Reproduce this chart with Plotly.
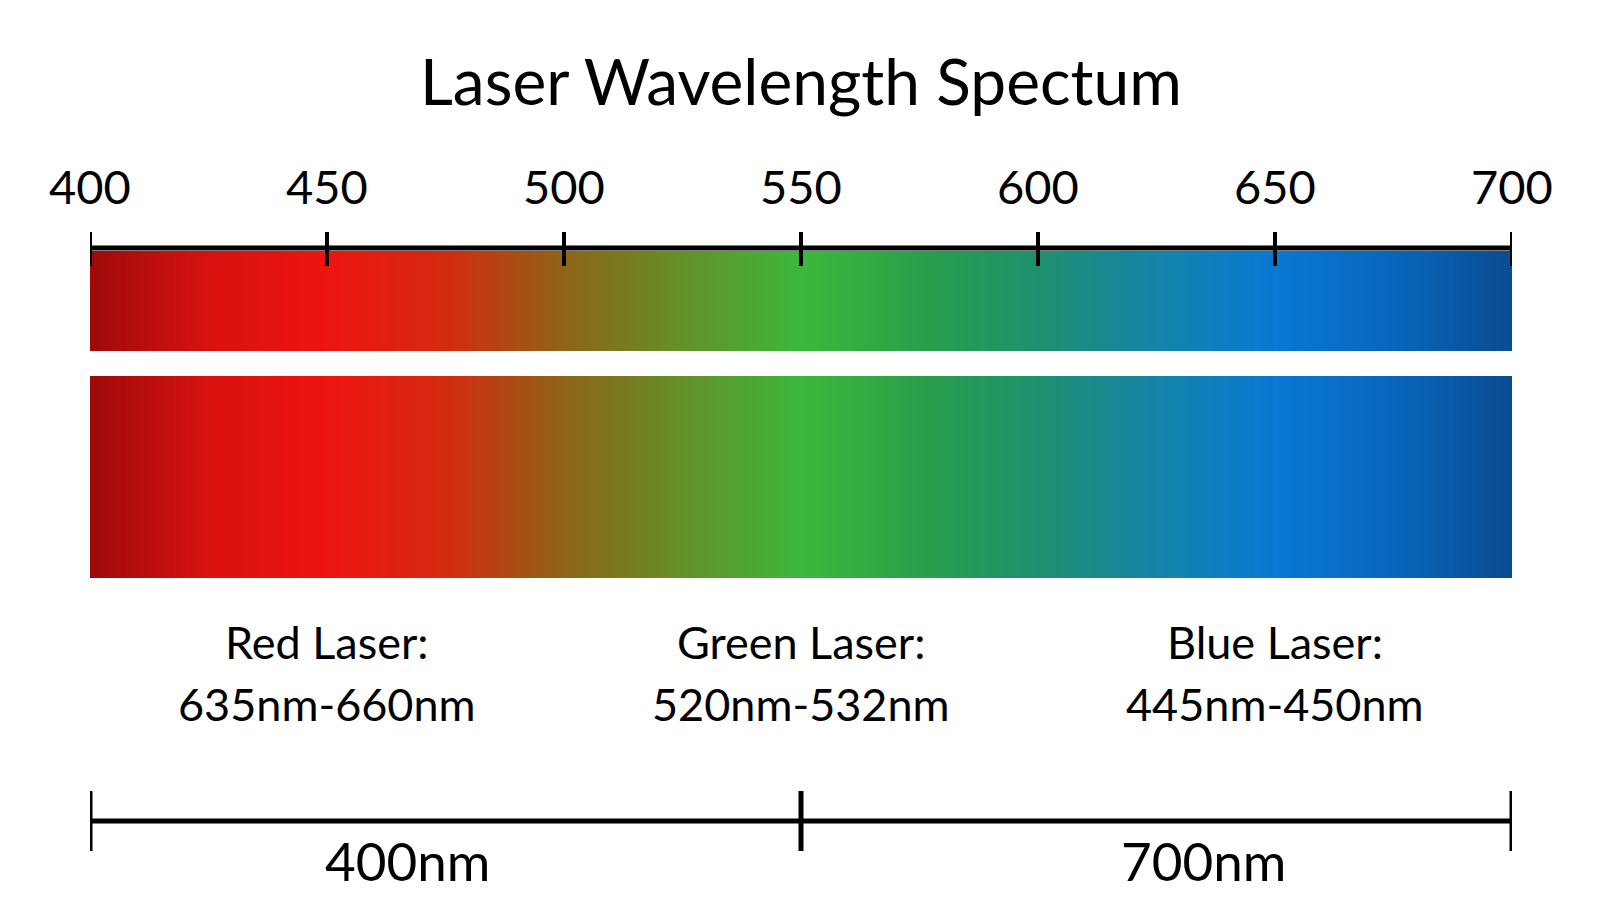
import numpy as np
import plotly.graph_objects as go

title = "Laser Wavelength Spectum"
tick_vals = [400, 450, 500, 550, 600, 650, 700]
tick_labels = ["400", "450", "500", "550", "600", "650", "700"]
color_stops = [400, 425, 450, 475, 500, 525, 550, 575, 600, 625, 650, 675, 700]
color_hex = ["#9e0a0a", "#d81210", "#ee1410", "#d42a10", "#8e6418", "#64902a", "#3cb83c",
             "#2aa04a", "#1e906e", "#1484a8", "#0a78d4", "#0866bc", "#0a4c92"]
laser_names = ["Red Laser:", "Green Laser:", "Blue Laser:"]
laser_ranges = ["635nm-660nm", "520nm-532nm", "445nm-450nm"]
laser_x = [450, 550, 650]
bottom_ticks = [400, 550, 700]
bottom_labels = ["400nm", "700nm"]
bottom_label_x = [467, 635]

FONT = "Lato, Open Sans, sans-serif"
wl = np.arange(400, 701, 1)
cs = [[(v - 400) / 300, c] for v, c in zip(color_stops, color_hex)]

fig = go.Figure()
for y0, h in [(243, 100), (368, 202)]:
    fig.add_trace(go.Heatmap(z=[wl], x=wl, y0=y0 + h / 2, dy=h, colorscale=cs,
                             zmin=400, zmax=700, showscale=False, hoverinfo="skip"))

shapes = [dict(type="line", x0=400, x1=700, y0=240, y1=240, line=dict(color="black", width=5))]
for t in tick_vals:
    shapes.append(dict(type="line", x0=t, x1=t, y0=224, y1=258, line=dict(color="black", width=4)))
shapes.append(dict(type="line", x0=400, x1=700, y0=813, y1=813, line=dict(color="black", width=5)))
for t in bottom_ticks:
    shapes.append(dict(type="line", x0=t, x1=t, y0=783, y1=843, line=dict(color="black", width=5)))

ann = []
for t, l in zip(tick_vals, tick_labels):
    ann.append(dict(x=t, y=178, text=l, showarrow=False, font=dict(size=47, color="black", family=FONT)))
for x, n, r in zip(laser_x, laser_names, laser_ranges):
    ann.append(dict(x=x, y=634, text=n, showarrow=False, font=dict(size=45, color="black", family=FONT)))
    ann.append(dict(x=x, y=696, text=r, showarrow=False, font=dict(size=45, color="black", family=FONT)))
for x, l in zip(bottom_label_x, bottom_labels):
    ann.append(dict(x=x, y=852, text=l, showarrow=False, font=dict(size=53, color="black", family=FONT)))
ann.append(dict(x=550, y=72, text=title, showarrow=False, font=dict(size=64, color="black", family=FONT)))

fig.update_layout(
    width=1600, height=900, margin=dict(l=82, r=96, t=0, b=0),
    paper_bgcolor="white", plot_bgcolor="white",
    xaxis=dict(range=[400, 700], visible=False),
    yaxis=dict(range=[900, 0], visible=False),
    shapes=shapes, annotations=ann,
)
for a in fig.layout.annotations:
    a.update(xref="x", yref="y")
fig.write_html("out.html")
